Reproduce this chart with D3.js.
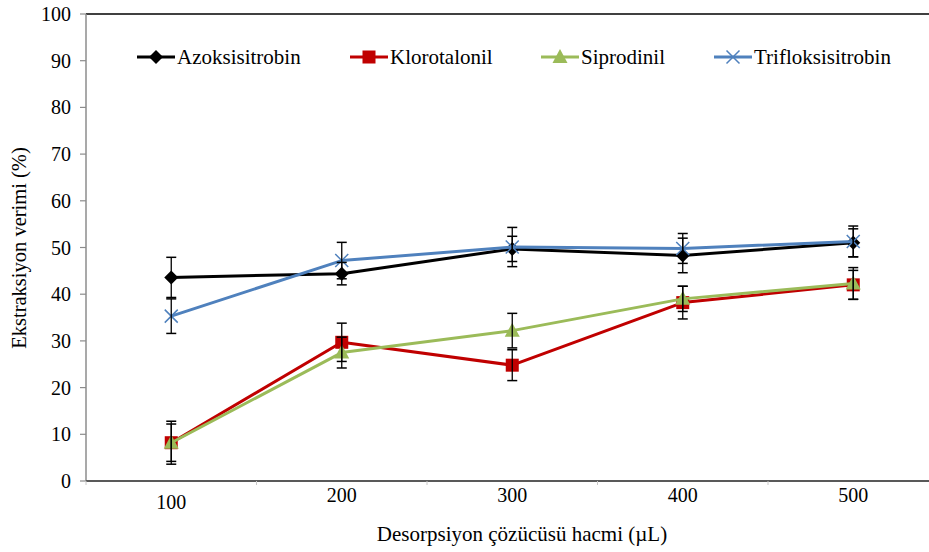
<!DOCTYPE html>
<html>
<head>
<meta charset="utf-8">
<script src="https://cdn.jsdelivr.net/npm/d3@7"></script>
<style>
  html, body { margin: 0; padding: 0; background: #fff; }
</style>
</head>
<body>
<svg id="chart" width="929" height="552"></svg>
<script>
// ---- data ----
const categories = [100, 200, 300, 400, 500];
const yTicks = [0, 10, 20, 30, 40, 50, 60, 70, 80, 90, 100];
const seriesNames = ["Azoksisitrobin", "Klorotalonil", "Siprodinil", "Trifloksisitrobin"];
const azoksisitrobin    = [43.6, 44.4, 49.7, 48.3, 51.0];
const azoksisitrobinErr = [4.3, 2.4, 2.7, 3.7, 3.0];
const klorotalonil      = [8.2, 29.7, 24.8, 38.2, 42.0];
const klorotalonilErr   = [4.6, 4.1, 3.3, 3.5, 3.1];
const siprodinil        = [8.2, 27.5, 32.2, 39.0, 42.3];
const siprodinilErr     = [4.0, 3.3, 3.7, 2.7, 3.4];
const trifloksisitrobin    = [35.3, 47.2, 50.1, 49.8, 51.3];
const trifloksisitrobinErr = [3.7, 3.9, 4.2, 3.2, 3.3];

const seriesValues = [azoksisitrobin, klorotalonil, siprodinil, trifloksisitrobin];
const seriesErrs = [azoksisitrobinErr, klorotalonilErr, siprodinilErr, trifloksisitrobinErr];
const colors = ["#000000", "#C00000", "#9BBB59", "#4F81BD"];
const markers = ["diamond", "square", "triangle", "cross"];

// ---- layout ----
const FONT = "'Liberation Serif', serif";
const svg = d3.select("#chart");
const plotL = 86, plotT = 14, plotB = 481, bandW = 170.5, plotR = 929;
const x = d3.scaleBand().domain(categories).range([plotL, plotL + bandW * categories.length]).padding(0);
const y = d3.scaleLinear().domain([0, 100]).range([plotB, plotT]);
const cx = d => x(d) + x.bandwidth() / 2;

// top border line
svg.append("line").attr("x1", plotL).attr("x2", plotR).attr("y1", plotT).attr("y2", plotT)
  .attr("stroke", "#000").attr("stroke-width", 1.5);

// y axis
const yAxis = svg.append("g");
yAxis.append("line").attr("x1", plotL).attr("x2", plotL).attr("y1", plotT).attr("y2", plotB)
  .attr("stroke", "#8c8c8c").attr("stroke-width", 1.5);
yAxis.selectAll(".yt").data(yTicks).join("line")
  .attr("x1", plotL - 6).attr("x2", plotL).attr("y1", d => y(d)).attr("y2", d => y(d))
  .attr("stroke", "#8c8c8c").attr("stroke-width", 1.2);
yAxis.selectAll(".yl").data(yTicks).join("text")
  .attr("x", plotL - 15).attr("y", d => y(d)).attr("dy", "0.35em")
  .style("font-family", FONT).style("font-size", "20px")
  .attr("text-anchor", "end").text(d => d);

// x axis
const xAxis = svg.append("g");
xAxis.append("line").attr("x1", plotL).attr("x2", plotR).attr("y1", plotB).attr("y2", plotB)
  .attr("stroke", "#595959").attr("stroke-width", 2);
const bounds = categories.map(c => x(c)).concat([x(categories[categories.length - 1]) + x.bandwidth()]);
xAxis.selectAll(".xt").data(bounds.filter(b => b < plotR)).join("line")
  .attr("x1", d => d).attr("x2", d => d).attr("y1", plotB).attr("y2", plotB + 4)
  .attr("stroke", "#c8c8c8").attr("stroke-width", 1);
xAxis.selectAll(".xl").data(categories).join("text")
  .attr("x", d => cx(d)).attr("y", (d, i) => i === 0 ? 509 : 502)
  .style("font-family", FONT).style("font-size", "20px")
  .attr("text-anchor", "middle").text(d => d);

// axis titles
svg.append("text").attr("x", 522).attr("y", 541).attr("text-anchor", "middle")
  .style("font-family", FONT).style("font-size", "21px")
  .text("Desorpsiyon çözücüsü hacmi (µL)");
svg.append("text").attr("transform", "translate(26,248) rotate(-90)").attr("text-anchor", "middle")
  .style("font-family", FONT).style("font-size", "20.5px")
  .text("Ekstraksiyon verimi (%)");

// marker drawing
function drawMarker(g, type, color, px, py) {
  if (type === "diamond") {
    g.append("path").attr("d", `M${px},${py - 7}L${px + 7},${py}L${px},${py + 7}L${px - 7},${py}Z`)
      .attr("fill", color);
  } else if (type === "square") {
    g.append("rect").attr("x", px - 6.5).attr("y", py - 6.5).attr("width", 13).attr("height", 13)
      .attr("fill", color);
  } else if (type === "triangle") {
    g.append("path").attr("d", `M${px},${py - 8}L${px + 7.5},${py + 6}L${px - 7.5},${py + 6}Z`)
      .attr("fill", color);
  } else if (type === "cross") {
    g.append("path").attr("d", `M${px - 6.5},${py - 6.5}L${px + 6.5},${py + 6.5}M${px - 6.5},${py + 6.5}L${px + 6.5},${py - 6.5}`)
      .attr("stroke", color).attr("stroke-width", 1.5).attr("fill", "none");
  }
}

const line = d3.line().x((d, i) => cx(categories[i])).y(d => y(d));

// series
seriesValues.forEach((vals, s) => {
  const g = svg.append("g");
  g.append("path").datum(vals).attr("d", line).attr("fill", "none")
    .attr("stroke", colors[s]).attr("stroke-width", 3).attr("stroke-linejoin", "round");
  vals.forEach((v, i) => drawMarker(g, markers[s], colors[s], cx(categories[i]), y(v)));
});

// error bars
seriesValues.forEach((vals, s) => {
  const g = svg.append("g");
  vals.forEach((v, i) => {
    const px = cx(categories[i]);
    const e = seriesErrs[s][i];
    const y1 = y(v + e), y2 = y(v - e);
    g.append("line").attr("x1", px).attr("x2", px).attr("y1", y1).attr("y2", y2)
      .attr("stroke", "#000").attr("stroke-width", 1.3);
    [y1, y2].forEach(yy => g.append("line").attr("x1", px - 5).attr("x2", px + 5)
      .attr("y1", yy).attr("y2", yy).attr("stroke", "#000").attr("stroke-width", 1.5));
  });
});

// legend
const legendX = [137, 350, 541, 714];
const legendY = 57;
seriesNames.forEach((name, s) => {
  const g = svg.append("g");
  const lx = legendX[s];
  g.append("line").attr("x1", lx).attr("x2", lx + 38).attr("y1", legendY).attr("y2", legendY)
    .attr("stroke", colors[s]).attr("stroke-width", 3);
  drawMarker(g, markers[s], colors[s], lx + 19, legendY);
  g.append("text").attr("x", lx + 40).attr("y", legendY).attr("dy", "0.35em")
    .style("font-family", FONT).style("font-size", "21px")
    .text(name);
});
</script>
</body>
</html>
